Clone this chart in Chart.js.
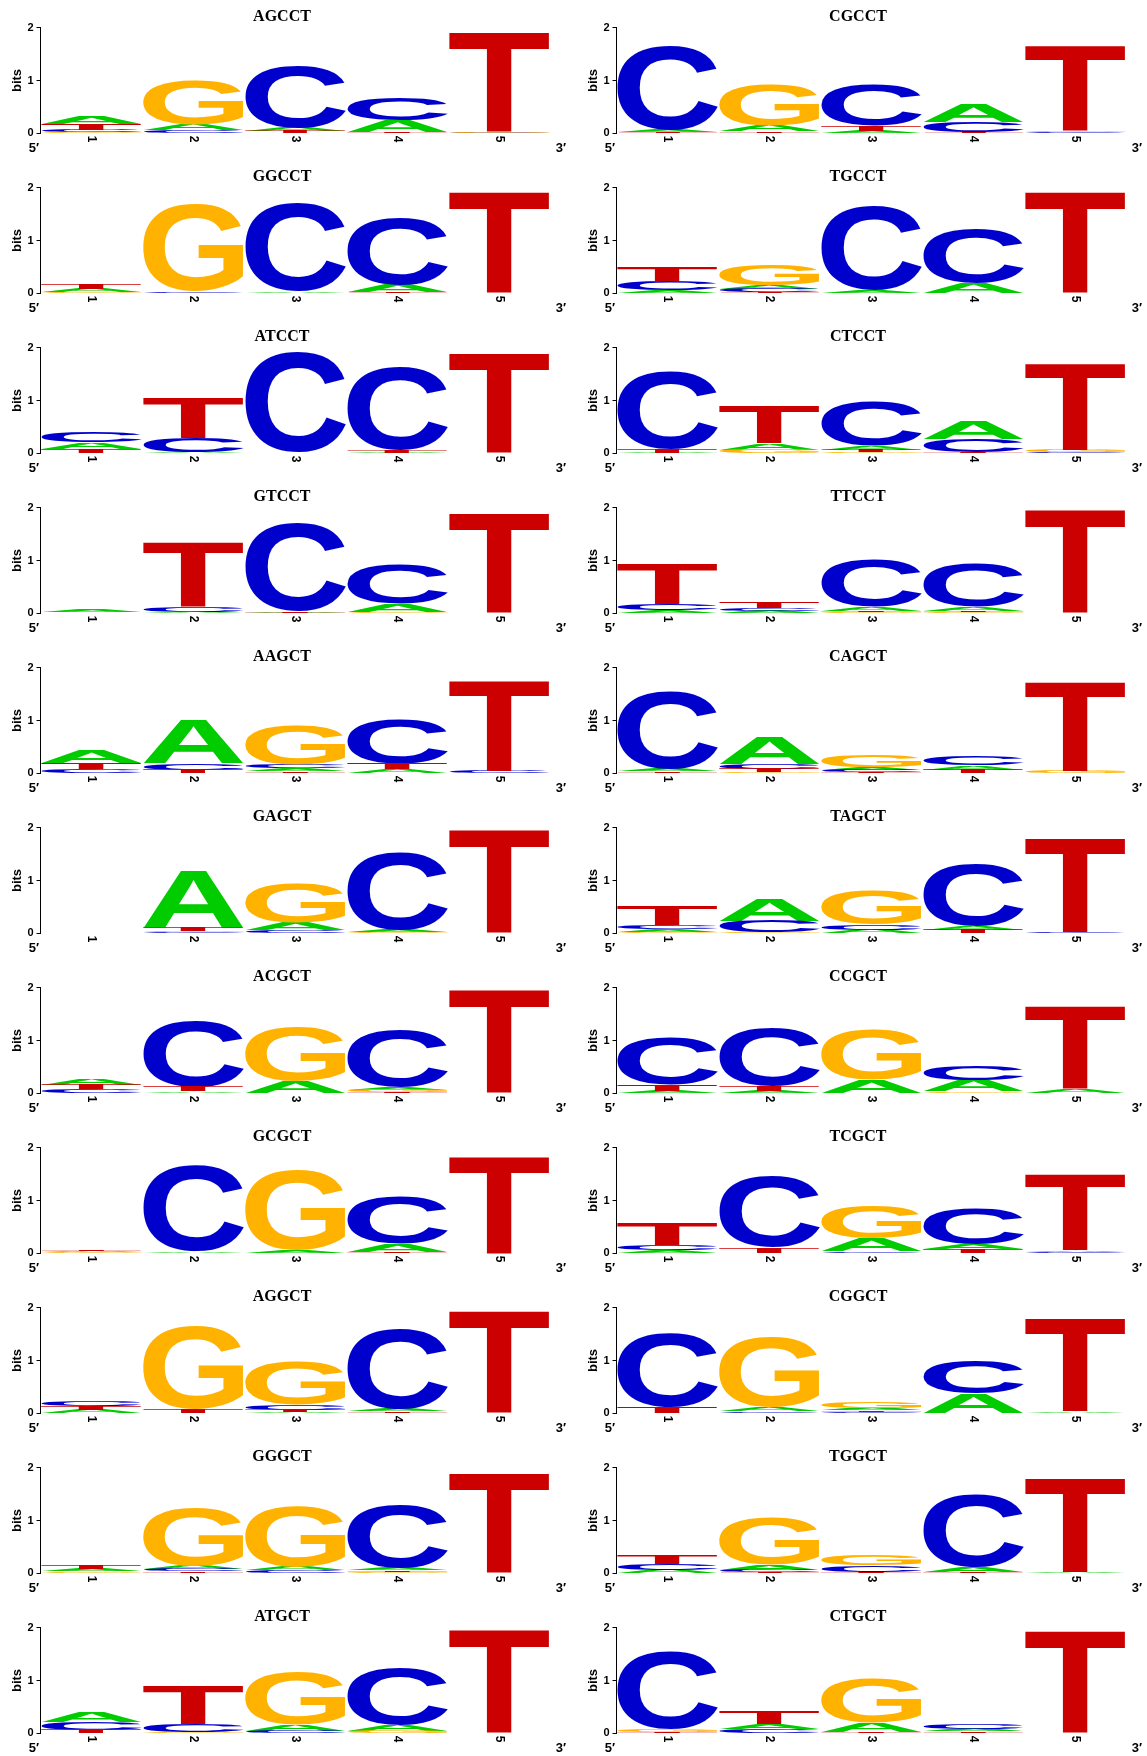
<!DOCTYPE html>
<html>
<head>
<meta charset="utf-8">
<script src="https://cdn.jsdelivr.net/npm/chart.js@4.4.1/dist/chart.umd.min.js"></script>
<style>
  body { margin: 0; background: #fff; }
  #page { position: relative; width: 1147px; height: 1756px; }
  #page canvas { position: absolute; }
</style>
</head>
<body>
<div id="page"></div>
<script>
// Panel titles (one logo per panel, read left-to-right, top-to-bottom)
const titles = ['AGCCT', 'CGCCT', 'GGCCT', 'TGCCT', 'ATCCT', 'CTCCT', 'GTCCT', 'TTCCT',
  'AAGCT', 'CAGCT', 'GAGCT', 'TAGCT', 'ACGCT', 'CCGCT', 'GCGCT', 'TCGCT',
  'AGGCT', 'CGGCT', 'GGGCT', 'TGGCT', 'ATGCT', 'CTGCT'];
const positions = ['1', '2', '3', '4', '5'];
const yTicks = [0, 1, 2];

// Letter heights in bits, one row per panel, one value per position
const bitsA = [
  [0.14, 0.11, 0.06, 0.22, 0.005], [0.04, 0.11, 0.04, 0.35, 0.005],
  [0.06, 0.005, 0.03, 0.15, 0.005], [0.05, 0.07, 0.04, 0.19, 0.005],
  [0.12, 0.01, 0.005, 0.01, 0.005], [0.01, 0.13, 0.07, 0.33, 0.005],
  [0.04, 0.02, 0.01, 0.15, 0.005], [0.05, 0.04, 0.08, 0.08, 0.005],
  [0.24, 0.83, 0.05, 0.07, 0.005], [0.05, 0.52, 0.05, 0.08, 0.005],
  [0, 1.08, 0.14, 0.04, 0.005], [0.05, 0.41, 0.06, 0.08, 0.005],
  [0.11, 0.03, 0.22, 0.05, 0.005], [0.04, 0.04, 0.24, 0.21, 0.07],
  [0.02, 0.03, 0.05, 0.15, 0.005], [0.05, 0.005, 0.24, 0.09, 0.03],
  [0.06, 0.005, 0.03, 0.05, 0.005], [0.005, 0.08, 0.04, 0.37, 0.03],
  [0.05, 0.06, 0.06, 0.04, 0.005], [0.06, 0.09, 0.005, 0.09, 0.02],
  [0.2, 0.005, 0.11, 0.11, 0.005], [0.005, 0.09, 0.18, 0.05, 0.005]
];
const bitsC = [
  [0.04, 0.05, 1.17, 0.42, 0.01], [1.6, 0.005, 0.77, 0.19, 0.02],
  [0.01, 0.03, 1.66, 1.27, 0.005], [0.17, 0.06, 1.6, 1.02, 0.005],
  [0.19, 0.27, 1.9, 1.57, 0.005], [1.48, 0.01, 0.85, 0.24, 0.01],
  [0.005, 0.1, 1.68, 0.75, 0.005], [0.13, 0.05, 0.9, 0.83, 0.005],
  [0.08, 0.12, 0.07, 0.86, 0.04], [1.47, 0.1, 0.04, 0.18, 0.005],
  [0, 0.02, 0.05, 1.46, 0.005], [0.08, 0.22, 0.1, 1.17, 0.02],
  [0.07, 1.24, 0.005, 1.06, 0.005], [0.9, 1.1, 0.005, 0.28, 0.005],
  [0.01, 1.62, 0.005, 0.9, 0.005], [0.1, 1.35, 0.03, 0.68, 0.025],
  [0.09, 0.005, 0.09, 1.51, 0.005], [1.4, 0.03, 0.03, 0.62, 0.005],
  [0.01, 0.04, 0.055, 1.2, 0.005], [0.11, 0.05, 0.13, 1.38, 0.005],
  [0.15, 0.15, 0.04, 1.07, 0.005], [1.48, 0.08, 0.005, 0.1, 0.005]
];
const bitsG = [
  [0.02, 0.85, 0.01, 0.01, 0.01], [0.005, 0.77, 0.01, 0.005, 0.02],
  [0.02, 1.65, 0.005, 0.005, 0.005], [0.005, 0.39, 0.005, 0.005, 0.005],
  [0.005, 0.005, 0.005, 0.005, 0.005], [0.005, 0.06, 0.02, 0.01, 0.04],
  [0.005, 0.005, 0.005, 0.02, 0.005], [0.005, 0.01, 0.02, 0.02, 0.005],
  [0.005, 0.01, 0.75, 0.01, 0.005], [0.005, 0.02, 0.22, 0.01, 0.04],
  [0, 0.02, 0.75, 0.02, 0.005], [0.03, 0.01, 0.64, 0.005, 0.005],
  [0.005, 0.005, 1.02, 0.04, 0.005], [0.005, 0.005, 0.95, 0.03, 0.005],
  [0.015, 0.005, 1.52, 0.005, 0.005], [0.005, 0.005, 0.62, 0.005, 0.005],
  [0.005, 1.57, 0.81, 0.005, 0.005], [0.005, 1.33, 0.12, 0.005, 0.005],
  [0.03, 1.09, 1.14, 0.025, 0.005], [0.005, 0.89, 0.2, 0.005, 0.005],
  [0.005, 0.02, 1.0, 0.04, 0.005], [0.05, 0.005, 0.86, 0.005, 0.005]
];
const bitsT = [
  [0.12, 0.01, 0.04, 0.02, 1.89], [0.01, 0.03, 0.1, 0.01, 1.6],
  [0.1, 0.005, 0.005, 0.01, 1.91], [0.27, 0.02, 0.005, 0.005, 1.91],
  [0.08, 0.76, 0.005, 0.05, 1.89], [0.07, 0.7, 0.05, 0.02, 1.64],
  [0.005, 1.21, 0.02, 0.01, 1.88], [0.76, 0.12, 0.02, 0.03, 1.96],
  [0.11, 0.06, 0.04, 0.11, 1.7], [0.03, 0.06, 0.03, 0.06, 1.69],
  [0, 0.08, 0.005, 0.01, 1.96], [0.37, 0.005, 0.005, 0.06, 1.79],
  [0.09, 0.09, 0.005, 0.03, 1.96], [0.12, 0.09, 0.005, 0.005, 1.55],
  [0.03, 0.005, 0.005, 0.02, 1.83], [0.4, 0.1, 0.005, 0.08, 1.45],
  [0.08, 0.07, 0.04, 0.03, 1.94], [0.11, 0.005, 0.03, 0.005, 1.75],
  [0.07, 0.035, 0.005, 0.03, 1.88], [0.18, 0.02, 0.02, 0.02, 1.79],
  [0.06, 0.72, 0.005, 0.005, 1.95], [0.02, 0.25, 0.02, 0.03, 1.92]
];

const letters = ['A', 'C', 'G', 'T'];
const letterColors = { A: '#00CC00', C: '#0000CC', G: '#FFB300', T: '#CC0000' };
const bitsByLetter = { A: bitsA, C: bitsC, G: bitsG, T: bitsT };

// Stack each column: smallest letter at the bottom, biggest on top
function columnRanges(p, j) {
  const order = letters.slice().sort((a, b) => bitsByLetter[a][p][j] - bitsByLetter[b][p][j]);
  const ranges = {};
  let y = 0;
  order.forEach(l => {
    const h = bitsByLetter[l][p][j];
    ranges[l] = [y, y + h];
    y += h;
  });
  return ranges;
}

// Glyph metrics, cached, for stretching each letter into its bar
const glyphCache = {};
function glyphMetrics(ctx, letter) {
  if (!glyphCache[letter]) {
    ctx.save();
    ctx.font = 'bold 200px "Liberation Sans"';
    const m = ctx.measureText(letter);
    ctx.restore();
    glyphCache[letter] = {
      left: m.actualBoundingBoxLeft, right: m.actualBoundingBoxRight,
      asc: m.actualBoundingBoxAscent, desc: m.actualBoundingBoxDescent
    };
  }
  return glyphCache[letter];
}

const logoLetters = {
  id: 'logoLetters',
  afterDatasetsDraw(chart) {
    const ctx = chart.ctx;
    chart.data.datasets.forEach((ds, di) => {
      const meta = chart.getDatasetMeta(di);
      const g = glyphMetrics(ctx, ds.label);
      meta.data.forEach(bar => {
        const { x, y, base, width } = bar.getProps(['x', 'y', 'base', 'width'], true);
        const h = Math.abs(base - y);
        if (h < 0.2) return;
        const bottom = Math.max(base, y);
        ctx.save();
        ctx.translate(x - width / 2, bottom);
        ctx.scale(width / (g.left + g.right), h / (g.asc + g.desc));
        ctx.font = 'bold 200px "Liberation Sans"';
        ctx.textAlign = 'left';
        ctx.textBaseline = 'alphabetic';
        ctx.fillStyle = letterColors[ds.label];
        ctx.fillText(ds.label, g.left, -g.desc);
        ctx.restore();
      });
    });
  }
};

const panelText = {
  id: 'panelText',
  afterDraw(chart) {
    const ctx = chart.ctx;
    const area = chart.chartArea;
    const xs = chart.scales.x;
    ctx.save();
    ctx.fillStyle = '#000';
    // title
    ctx.font = 'bold 16px "Liberation Serif"';
    ctx.textAlign = 'center';
    ctx.textBaseline = 'middle';
    ctx.fillText(chart.options.plugins.panelText.title, 282, 17);
    // 5' and 3' ends
    ctx.font = 'bold 13px "Liberation Sans"';
    ctx.fillText('5\u2032', 34, 148.5);
    ctx.fillText('3\u2032', 561, 148.5);
    // position labels, turned clockwise
    ctx.font = 'bold 12px "Liberation Sans"';
    ctx.textAlign = 'left';
    positions.forEach((lab, i) => {
      ctx.save();
      ctx.translate(xs.getPixelForTick(i), area.bottom + 2.5);
      ctx.rotate(Math.PI / 2);
      ctx.fillText(lab, 0, 0);
      ctx.restore();
    });
    // y axis title
    ctx.font = 'bold 13px "Liberation Sans"';
    ctx.textAlign = 'center';
    ctx.translate(17.5, (area.top + area.bottom) / 2);
    ctx.rotate(-Math.PI / 2);
    ctx.fillText('bits', 0, 0);
    ctx.restore();
  }
};

const page = document.getElementById('page');
titles.forEach((title, p) => {
  const canvas = document.createElement('canvas');
  canvas.width = 571;
  canvas.height = 160;
  canvas.style.left = (p % 2 === 0 ? 0 : 576) + 'px';
  canvas.style.top = (Math.floor(p / 2) * 160) + 'px';
  page.appendChild(canvas);

  const cols = positions.map((_, j) => columnRanges(p, j));
  const datasets = letters.map(l => ({
    label: l,
    data: cols.map(c => c[l]),
    backgroundColor: 'rgba(0,0,0,0)',
    borderWidth: 0,
    grouped: false,
    categoryPercentage: 1,
    barPercentage: 0.985
  }));

  new Chart(canvas, {
    type: 'bar',
    data: { labels: positions, datasets: datasets },
    options: {
      responsive: false,
      animation: false,
      events: [],
      layout: { padding: { top: 27.7, bottom: 26.7, left: 0, right: 20.5 } },
      plugins: {
        legend: { display: false },
        tooltip: { enabled: false },
        panelText: { title: title }
      },
      scales: {
        x: { type: 'category', display: false, offset: true },
        y: {
          min: 0,
          max: 2,
          afterBuildTicks: s => { s.ticks = yTicks.map(v => ({ value: v })); },
          afterFit: s => { s.width = 40.5; },
          ticks: {
            color: '#000',
            padding: 3,
            font: { family: 'Liberation Sans', size: 11, weight: 'bold' }
          },
          grid: { drawOnChartArea: false, drawTicks: true, tickLength: 4, color: '#000' },
          border: { display: true, color: '#000', width: 1 }
        }
      }
    },
    plugins: [logoLetters, panelText]
  });
});
</script>
</body>
</html>
